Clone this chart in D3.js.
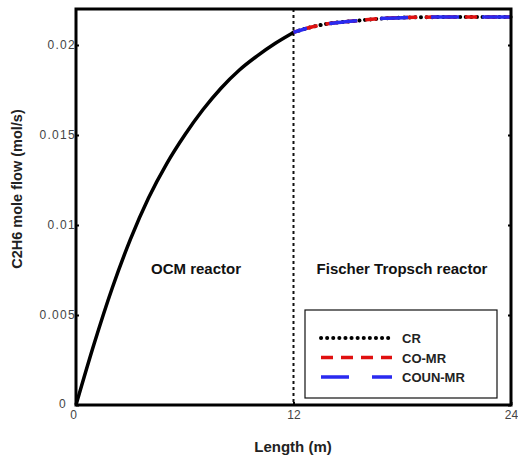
<!DOCTYPE html>
<html>
<head>
<meta charset="utf-8">
<script src="https://cdn.jsdelivr.net/npm/d3@7"></script>
<style>
body { margin:0; background:#fff; }
text { font-family: Arial, "Liberation Sans", sans-serif; }
</style>
</head>
<body>
<div id="chart"></div>
<script>
// OCM section (0-12 m), one solid curve
var ocmLength = [0, 1, 2, 3, 4, 5, 6, 7, 8, 9, 10, 11, 12];
var ocmFlow = [0, 0.0034, 0.0065, 0.0092, 0.0115, 0.0134, 0.0150, 0.0164, 0.0176, 0.0186, 0.0194, 0.0201, 0.0207];

// Fischer Tropsch section (12-24 m), three designs
var ftLength = [12, 13, 14, 15, 16, 17, 18, 19, 20, 21, 22, 23, 24];
var crFlow = [0.0207, 0.0210, 0.0212, 0.0213, 0.0214, 0.02148, 0.02152, 0.02154, 0.02155, 0.02155, 0.02156, 0.02156, 0.02156];
var coMrFlow = [0.0207, 0.0210, 0.0212, 0.0213, 0.0214, 0.02148, 0.02152, 0.02154, 0.02155, 0.02155, 0.02156, 0.02156, 0.02156];
var counMrFlow = [0.0207, 0.0210, 0.0212, 0.0213, 0.0214, 0.02148, 0.02152, 0.02154, 0.02155, 0.02155, 0.02156, 0.02156, 0.02156];

var xTicks = [0, 12, 24];
var yTicks = [0, 0.005, 0.01, 0.015, 0.02];
var yTickLabels = ["0", "0.005", "0.01", "0.015", "0.02"];
var seriesNames = ["CR", "CO-MR", "COUN-MR"];
var seriesColors = ["#000000", "#e01010", "#2a2af0"];
var seriesDash = ["0.1,5.5", "12,8", "28,23"];

var width = 518, height = 462;
var svg = d3.select("#chart").append("svg").attr("width", width).attr("height", height);

var x = d3.scaleLinear().domain([0, 24]).range([76, 511]);
var y = d3.scaleLinear().domain([0, 0.022]).range([405, 9]);

// dotted separator at 12 m
svg.append("line")
    .attr("x1", x(12)).attr("x2", x(12))
    .attr("y1", y(0.022)).attr("y2", y(0))
    .attr("stroke", "#111").attr("stroke-width", 2)
    .attr("stroke-dasharray", "3,3");

var line = d3.line().x(function(d){ return x(d[0]); }).y(function(d){ return y(d[1]); }).curve(d3.curveMonotoneX);

svg.append("path")
    .attr("d", line(ocmLength.map(function(v,i){ return [v, ocmFlow[i]]; })))
    .attr("fill", "none").attr("stroke", "#000").attr("stroke-width", 3.5);

var ftSeries = [crFlow, coMrFlow, counMrFlow];
ftSeries.forEach(function(vals, k){
    svg.append("path")
        .attr("d", line(ftLength.map(function(v,i){ return [v, vals[i]]; })))
        .attr("fill", "none")
        .attr("stroke", seriesColors[k])
        .attr("stroke-width", k == 0 ? 4 : 3.5)
        .attr("stroke-linecap", k == 0 ? "round" : "butt")
        .attr("stroke-dasharray", seriesDash[k])
        .attr("stroke-dashoffset", k * 7);
});

// axes (ticks inside)
var yAxis = d3.axisLeft(y).tickValues(yTicks).tickSize(-3)
    .tickFormat(function(d,i){ return yTickLabels[i]; });
var gy = svg.append("g").attr("transform", "translate(" + x(0) + ",0)").call(yAxis);
gy.select(".domain").remove();
gy.selectAll("line").attr("stroke", "#000").attr("stroke-width", 2);
gy.selectAll("text").attr("font-size", 12).attr("fill", "#444")
    .attr("letter-spacing", 1.3).attr("x", 0);
gy.selectAll(".tick").filter(function(d){ return d === 0; }).select("text").attr("dy", "0.2em").attr("x", -9);

var gyr = svg.append("g").attr("transform", "translate(" + x(24) + ",0)")
    .call(d3.axisRight(y).tickValues(yTicks).tickSize(-3).tickFormat(""));
gyr.select(".domain").remove();
gyr.selectAll("line").attr("stroke", "#000").attr("stroke-width", 2);

var xAxis = d3.axisBottom(x).tickValues(xTicks).tickSize(-3).tickPadding(4);
var gx = svg.append("g").attr("transform", "translate(0," + y(0) + ")").call(xAxis);
gx.select(".domain").remove();
gx.selectAll("line").attr("stroke", "#000").attr("stroke-width", 2);
gx.selectAll("text").attr("font-size", 12).attr("fill", "#444").attr("y", 5);
gx.selectAll(".tick").filter(function(d){ return d === 0; }).select("text").attr("x", -3);

// frame
svg.append("rect")
    .attr("x", x(0)).attr("y", y(0.022))
    .attr("width", x(24) - x(0)).attr("height", y(0) - y(0.022))
    .attr("fill", "none").attr("stroke", "#000").attr("stroke-width", 3);

// region labels
svg.append("text").attr("x", 196).attr("y", 274).attr("text-anchor", "middle")
    .attr("font-size", 15).attr("font-weight", "bold").attr("fill", "#111").text("OCM reactor");
svg.append("text").attr("x", 402).attr("y", 274).attr("text-anchor", "middle")
    .attr("font-size", 15).attr("font-weight", "bold").attr("fill", "#111").text("Fischer Tropsch reactor");

// axis titles
svg.append("text").attr("x", 293).attr("y", 452).attr("text-anchor", "middle")
    .attr("font-size", 15).attr("font-weight", "bold").attr("fill", "#222").text("Length (m)");
svg.append("text").attr("transform", "translate(22,189) rotate(-90)").attr("text-anchor", "middle")
    .attr("font-size", 14.5).attr("font-weight", "bold").attr("fill", "#222").text("C2H6 mole flow (mol/s)");

// legend
var lg = svg.append("g");
lg.append("rect").attr("x", 305).attr("y", 310).attr("width", 192).attr("height", 88)
    .attr("fill", "#fff").attr("stroke", "#111").attr("stroke-width", 1.2);
seriesNames.forEach(function(name, k){
    var ly = 338 + k * 19.5;
    lg.append("line").attr("x1", 321).attr("x2", 392).attr("y1", ly).attr("y2", ly)
        .attr("stroke", seriesColors[k]).attr("stroke-width", k == 0 ? 4 : 3.5)
        .attr("stroke-linecap", k == 0 ? "round" : "butt")
        .attr("stroke-dasharray", k == 0 ? "0.1,6" : seriesDash[k]);
    lg.append("text").attr("x", 402).attr("y", ly + 5).attr("font-size", 13)
        .attr("font-weight", "bold").attr("fill", "#222").text(name);
});
</script>
</body>
</html>
